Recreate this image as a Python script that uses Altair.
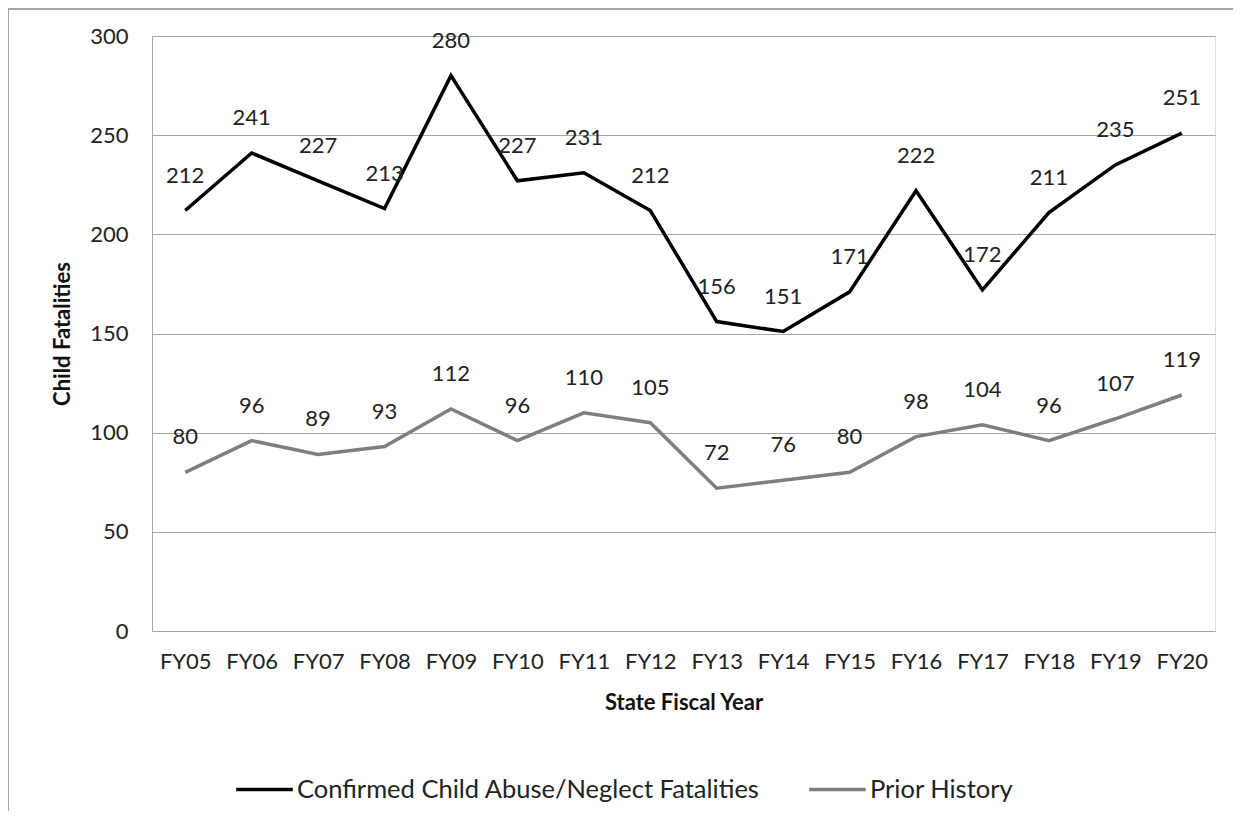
import altair as alt
import pandas as pd

years = ["FY05", "FY06", "FY07", "FY08", "FY09", "FY10", "FY11", "FY12",
         "FY13", "FY14", "FY15", "FY16", "FY17", "FY18", "FY19", "FY20"]
confirmed = [212, 241, 227, 213, 280, 227, 231, 212, 156, 151, 171, 222, 172, 211, 235, 251]
prior = [80, 96, 89, 93, 112, 96, 110, 105, 72, 76, 80, 98, 104, 96, 107, 119]
series_names = ["Confirmed Child Abuse/Neglect Fatalities", "Prior History"]
series_colors = ["#000000", "#7f7f7f"]

rows = []
for i, y in enumerate(years):
    rows.append({"year": y, "series": series_names[0], "value": confirmed[i]})
    rows.append({"year": y, "series": series_names[1], "value": prior[i]})
df = pd.DataFrame(rows)

FONT = "Lato"
W, H = 1063, 595

x = alt.X("year:N", sort=years, title="State Fiscal Year",
          scale=alt.Scale(type="point", padding=0.5),
          axis=alt.Axis(labelAngle=0, labelFontSize=22, labelFont=FONT, labelColor="#222",
                        labelPadding=20, ticks=False, grid=False, domainColor="#a6a6a6",
                        titleFontSize=22, titleFont=FONT, titleFontWeight="bold",
                        titleColor="#111", titlePadding=20))
y = alt.Y("value:Q", title="Child Fatalities",
          scale=alt.Scale(domain=[0, 300], nice=False),
          axis=alt.Axis(values=[0, 50, 100, 150, 200, 250, 300], labelFontSize=22,
                        labelFont=FONT, labelColor="#222", labelPadding=24, ticks=False,
                        gridColor="#a6a6a6", gridWidth=1, domainColor="#a6a6a6",
                        titleFontSize=22, titleFont=FONT, titleFontWeight="bold",
                        titleColor="#111", titleX=-90, titleY=H / 2, titleAngle=-90,
                        titleAlign="center", titleBaseline="middle"))
color = alt.Color("series:N", sort=series_names,
                  scale=alt.Scale(domain=series_names, range=series_colors),
                  legend=alt.Legend(title=None, orient="none", legendX=82, legendY=723,
                                    direction="horizontal", symbolType="stroke",
                                    symbolSize=3200, symbolStrokeWidth=3.5,
                                    labelFontSize=25.5, labelFont=FONT, labelColor="#222",
                                    labelLimit=0, columnPadding=42, labelOffset=2))

base = alt.Chart(df)
lines = base.mark_line(strokeWidth=3.5).encode(x=x, y=y, color=color,
                                              detail="series:N")
labels = base.mark_text(dy=-35, fontSize=22, font=FONT, color="#222").encode(
    x=alt.X("year:N", sort=years), y="value:Q", text="value:Q")

border_left = alt.Chart(df).mark_rule(color="#a6a6a6", strokeWidth=1.5).encode(
    x=alt.value(-144), y=alt.value(-28), y2=alt.value(800))
border_top = alt.Chart(df).mark_rule(color="#a6a6a6", strokeWidth=1.5).encode(
    x=alt.value(-144), x2=alt.value(1100), y=alt.value(-27.5))

chart = alt.layer(border_left, border_top, lines, labels).properties(
    width=W, height=H,
    autosize=alt.AutoSizeParams(type="none"),
    padding={"left": 144, "top": 28, "right": 18, "bottom": 180},
).configure_view(stroke=None).configure(background="white")

chart.save("out.html", embed_options={"renderer": "svg", "actions": False})
